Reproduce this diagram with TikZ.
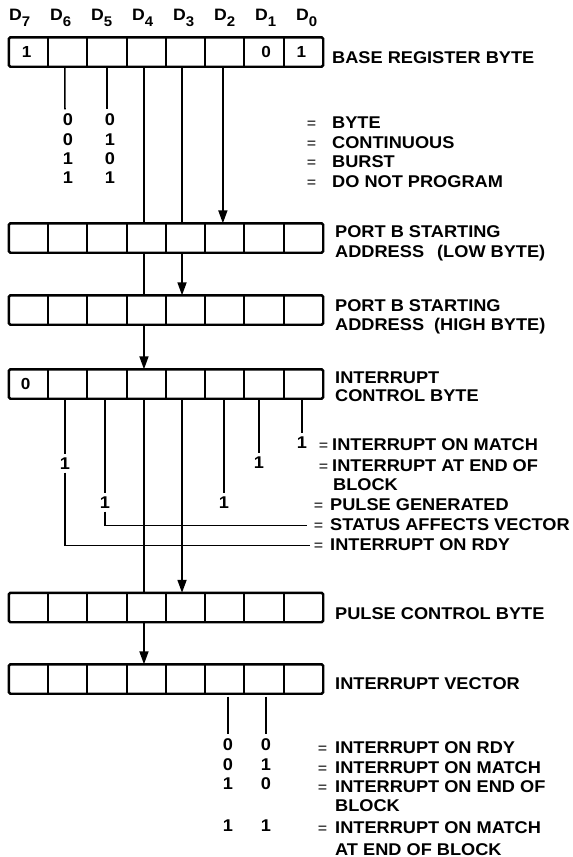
\documentclass[tikz,border=0pt]{standalone}
\usepackage{fontspec}
\setmainfont{Liberation Sans}[FakeStretch=1.07]
\usetikzlibrary{arrows.meta}
\newcommand\eqg[1]{\llap{{\mdseries\fontsize{15}{15}\selectfont=}\hspace{#1}}}
\newcommand\dlab[1]{D\raisebox{-6pt}{\fontsize{14}{14}\selectfont #1}}
\begin{document}
\begin{tikzpicture}[x=1pt,y=-1pt,
  cell/.style={minimum width=39.25pt,minimum height=29pt,inner sep=0pt},
  celltxt/.style={inner sep=0pt,font=\fontsize{16}{16}\selectfont\bfseries},
  lbl/.style={anchor=base west,inner sep=0pt,font=\fontsize{17}{17}\selectfont\bfseries},
  dlbl/.style={anchor=base west,inner sep=0pt,font=\fontsize{16.5}{16.5}\selectfont\bfseries},
  dig/.style={anchor=base,inner sep=3.5pt,font=\fontsize{17}{17}\selectfont\bfseries},
  wire/.style={line width=1.7pt},
  arr/.style={wire,-{Triangle[length=13pt,width=9pt]}},
  reg/.style={line width=2.4pt,rounded corners=1.5pt},
  divider/.style={line width=2pt}]
\useasboundingbox (0,0) rectangle (573,857);

% registers
\foreach \rowi/\yy in {1/52,2/238,3/310,4/384,5/607.5,6/679}{
  \foreach \biti in {0,...,7}{
    \node[cell] (r\rowi c\biti) at ({9+39.25*(7.5-\biti)},\yy) {};
  }
  \draw[reg] (r\rowi c7.north west) rectangle (r\rowi c0.south east);
  \foreach \biti in {0,...,6}{
    \draw[divider] (r\rowi c\biti.north west) -- (r\rowi c\biti.south west);
  }
}
\node[celltxt] (v1) at ([xshift=-2pt]r1c7.center) {1};
\node[celltxt] (v2) at ([xshift=2pt]r1c1.center) {0};
\node[celltxt] (v3) at ([xshift=-2pt]r1c0.center) {1};
\node[celltxt] (v4) at ([xshift=-3pt]r4c7.center) {0};

% bit labels
\foreach \biti/\xx in {7/9,6/50,5/91,4/132,3/173,2/214,1/255,0/296}{
  \node[dlbl] (lab\biti) at (\xx,20.5) {\dlab{\biti}};
}

% register names
\node[lbl] (t1) at (332,63) {BASE REGISTER BYTE};
\node[lbl] (t2a) at (335,237) {PORT B STARTING};
\node[lbl] (t2b) at (335,257) {ADDRESS\hspace{8pt} (LOW BYTE)};
\node[lbl] (t3a) at (335,311.5) {PORT B STARTING};
\node[lbl] (t3b) at (335,330) {ADDRESS\hspace{5pt} (HIGH BYTE)};
\node[lbl] (t4a) at (335,383.3) {INTERRUPT};
\node[lbl] (t4b) at (335,401.7) {CONTROL BYTE};
\node[lbl] (t5) at (335,619) {PULSE CONTROL BYTE};
\node[lbl] (t6) at (335,689) {INTERRUPT VECTOR};

% top option list
\node[lbl] (o1) at (332,128) {\eqg{16pt}BYTE};
\node[lbl] (o2) at (332,148) {\eqg{16pt}CONTINUOUS};
\node[lbl] (o3) at (332,167.3) {\eqg{16pt}BURST};
\node[lbl] (o4) at (332,187.3) {\eqg{16pt}DO NOT PROGRAM};
\node[dig] (tA1) at (67.9,125) {0};
\node[dig] (tA2) at (67.9,145) {0};
\node[dig] (tA3) at (67.9,164) {1};
\node[dig] (tA4) at (67.9,183) {1};
\node[dig] (tB1) at (110,125) {0};
\node[dig] (tB2) at (110,145) {1};
\node[dig] (tB3) at (110,164) {0};
\node[dig] (tB4) at (110,183) {1};
\draw[wire] ([xshift=-3pt]r1c6.south) -- ([xshift=-3pt]tA1.north);
\draw[wire] (r1c5.south) -- (r1c5.south |- tB1.north);

% long lines and arrows
\draw[wire] ([xshift=-2.4pt]r1c4.south) -- ([xshift=-2.4pt]r2c4.north);
\draw[wire] ([xshift=-2.4pt]r2c4.south) -- ([xshift=-2.4pt]r3c4.north);
\draw[arr]  ([xshift=-2.4pt]r3c4.south) -- ([xshift=-2.4pt]r4c4.north);
\draw[wire] ([xshift=-2.4pt]r4c4.south) -- ([xshift=-2.4pt]r5c4.north);
\draw[arr]  ([xshift=-2.4pt]r5c4.south) -- ([xshift=-2.4pt]r6c4.north);
\draw[wire] ([xshift=-3.6pt]r1c3.south) -- ([xshift=-3.6pt]r2c3.north);
\draw[arr]  ([xshift=-3.6pt]r2c3.south) -- ([xshift=-3.6pt]r3c3.north);
\draw[arr]  ([xshift=-3.6pt]r4c3.south) -- ([xshift=-3.6pt]r5c3.north);
\draw[arr]  ([xshift=-2pt]r1c2.south) -- ([xshift=-2pt]r2c2.north);

% interrupt control byte bits
\node[dig] (n0) at (302,448) {1};
\node[dig] (n1) at (259,468) {1};
\node[dig] (n2) at (224,508) {1};
\node[dig] (n5) at (105,508) {1};
\node[dig] (n6) at (65,469) {1};
\draw[wire] (r4c0.south -| n0) -- (n0.north);
\draw[wire] (r4c1.south -| n1) -- (n1.north);
\draw[wire] (r4c2.south -| n2) -- (n2.north);
\draw[wire] (r4c5.south -| n5) -- (n5.north);
\draw[wire] (r4c6.south -| n6) -- (n6.north);
\coordinate (e5) at (307,525.5);
\coordinate (e6) at (310,545.5);
\draw[wire] (n5.south) |- (e5);
\draw[wire] (n6.south) |- (e6);
\node[lbl] (i1) at (332,450.7) {\eqg{4pt}INTERRUPT ON MATCH};
\node[lbl] (i2) at (332,471) {\eqg{4pt}INTERRUPT AT END OF};
\node[lbl] (i3) at (333,490) {BLOCK};
\node[lbl] (i4) at (330,510.7) {\eqg{7pt}PULSE GENERATED};
\node[lbl] (i5) at (330,530.7) {\eqg{7pt}STATUS AFFECTS VECTOR};
\node[lbl] (i6) at (330,550.7) {\eqg{7pt}INTERRUPT ON RDY};

% interrupt vector bits
\node[dig] (bA1) at (228,750) {0};
\node[dig] (bA2) at (228,770) {0};
\node[dig] (bA3) at (228,789) {1};
\node[dig] (bA4) at (228,831) {1};
\node[dig] (bB1) at (266,750) {0};
\node[dig] (bB2) at (266,770) {1};
\node[dig] (bB3) at (266,789) {0};
\node[dig] (bB4) at (266,831) {1};
\draw[wire,shorten <=3pt] (r6c2.south -| bA1) -- (bA1.north);
\draw[wire,shorten <=3pt] (r6c1.south -| bB1) -- (bB1.north);
\node[lbl] (w1) at (335,753) {\eqg{8pt}INTERRUPT ON RDY};
\node[lbl] (w2) at (335,773) {\eqg{8pt}INTERRUPT ON MATCH};
\node[lbl] (w3) at (335,792) {\eqg{8pt}INTERRUPT ON END OF};
\node[lbl] (w4) at (335,811) {BLOCK};
\node[lbl] (w5) at (335,833) {\eqg{8pt}INTERRUPT ON MATCH};
\node[lbl] (w6) at (335,855) {AT END OF BLOCK};
\end{tikzpicture}
\end{document}
